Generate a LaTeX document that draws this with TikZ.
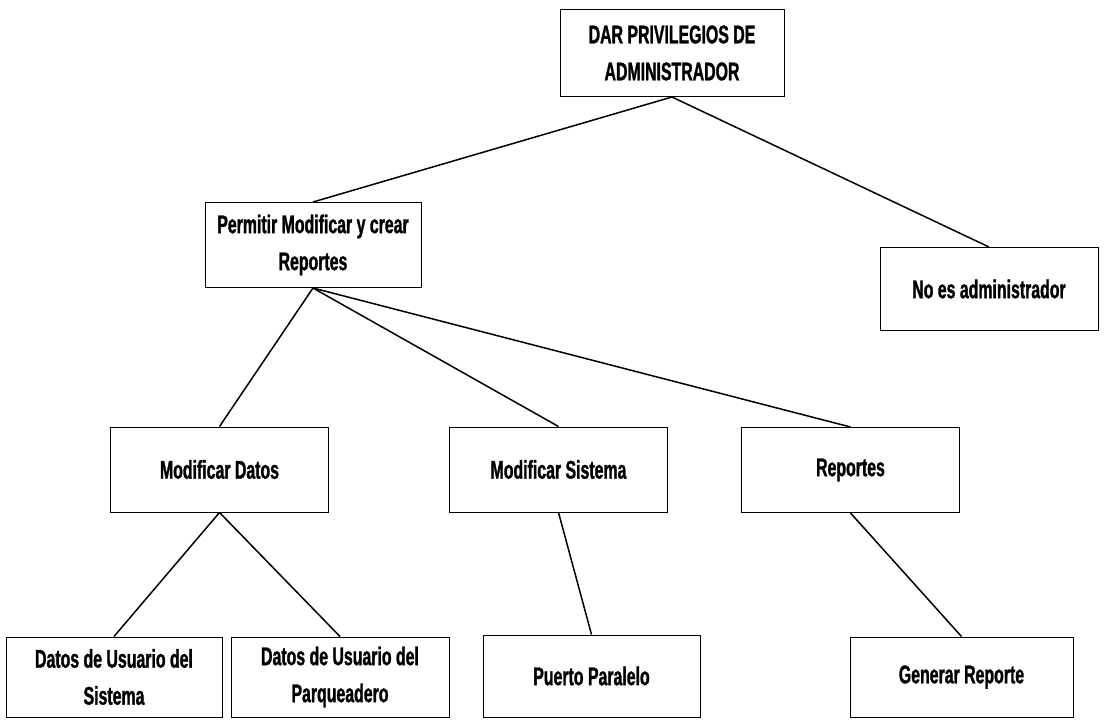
\documentclass[tikz,border=0pt]{standalone}
\usepackage{fontspec}
\usepackage{tikz}
\usetikzlibrary{positioning}
\newfontfamily\cajafont[FakeStretch=0.62, BoldFeatures={FakeBold=1.2}]{Liberation Sans}
\tikzset{
  every node/.style={inner sep=2pt}
}

\begin{document}
\begin{tikzpicture}[
    x=0.5pt, y=-0.5pt,
    font=\cajafont\bfseries\fontsize{12.8}{18.5}\selectfont,
    caja/.style={rectangle, draw, line width=0.5pt, align=center, minimum width=109pt, minimum height=42.5pt},
    linea/.style={draw, line width=0.75pt}
]
    \useasboundingbox (0,0) rectangle (1105,719);

    % nivel 1
    \node[caja, minimum width=112pt, minimum height=43.5pt] (dar) at (672,53) {DAR PRIVILEGIOS DE \\ ADMINISTRADOR};

    % nivel 2
    \node[caja, minimum width=108pt] (permitir) at (313,245) {Permitir Modificar y crear \\ Reportes};
    \node[caja, minimum height=41.5pt] (noadmin) at (989,289) {No es administrador};

    \draw[linea] (dar.south) -- (permitir.north);
    \draw[linea] (dar.south) -- (noadmin.north);

    % nivel 3
    \node[caja] (moddatos) at (219.5,469.5) {Modificar Datos};
    \node[caja] (modsistema) at (558.5,469.5) {Modificar Sistema};
    \node[caja] (reportes) at (850.5,470) {Reportes};

    \draw[linea] (permitir.south) -- (moddatos.north);
    \draw[linea] (permitir.south) -- (modsistema.north);
    \draw[linea] (permitir.south) -- (reportes.north);

    % nivel 4
    \node[caja, minimum width=108pt, minimum height=40pt] (usrsistema) at (114,677) {Datos de Usuario del \\ Sistema};
    \node[caja, minimum width=109pt, minimum height=40pt] (usrparq) at (340,677) {Datos de Usuario del \\ Parqueadero};
    \node[caja, minimum width=108.5pt, minimum height=41pt] (puerto) at (591.5,676) {Puerto Paralelo};
    \node[caja, minimum width=111.5pt, minimum height=40pt] (generar) at (961.5,677) {Generar Reporte};

    \draw[linea] (moddatos.south) -- (usrsistema.north);
    \draw[linea] (moddatos.south) -- (usrparq.north);
    \draw[linea] (modsistema.south) -- (puerto.north);
    \draw[linea] (reportes.south) -- (generar.north);

\end{tikzpicture}
\end{document}
